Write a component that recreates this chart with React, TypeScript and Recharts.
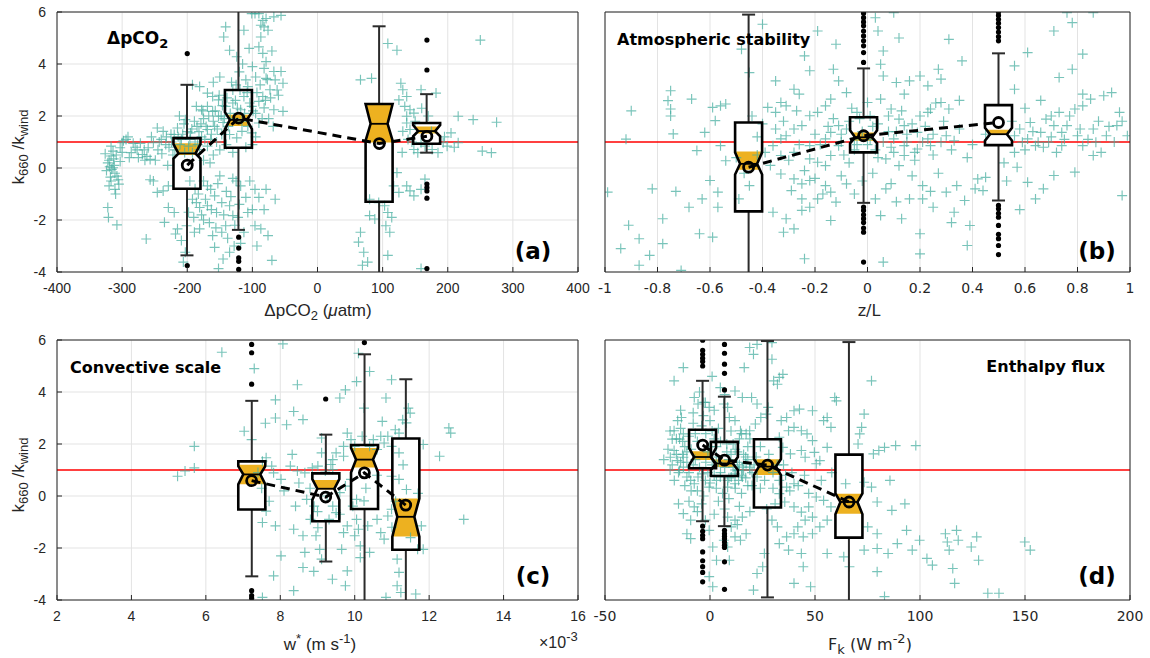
import React from "react";
import {
  Bar,
  CartesianGrid,
  ComposedChart,
  Line,
  ReferenceLine,
  Scatter,
  XAxis,
  YAxis,
} from "recharts";

const INK = "#262626";
const GRID = "#e3e3e3";
const TEAL = "#45ad9f";
const GOLD = "#edb120";
const BOX_W = 27;
const NOTCH = 5;
const CAP = 6.5;
const ARIAL = "Liberation Sans, Arial, sans-serif";
const VERDANA = "DejaVu Sans, Verdana, sans-serif";

const yTicks = [-4, -2, 0, 2, 4, 6];
const aTicks = [-400, -300, -200, -100, 0, 100, 200, 300, 400];
const bTicks = [-1, -0.8, -0.6, -0.4, -0.2, 0, 0.2, 0.4, 0.6, 0.8, 1];
const cTicks = [2, 4, 6, 8, 10, 12, 14, 16]; // w* in units of 1e-3 m/s
const dTicks = [-50, 0, 50, 100, 150, 200];

// box stats: [lower whisker, q1, notch lo, median, notch hi, q3, upper whisker]
// bands: shaded notch part [lo, hi]
const aPositions = [-200, -121, 95, 168];
const aBoxes = [
  [-3.36, -0.8, 0.36, 0.56, 0.92, 1.15, 3.2],
  [-2.38, 0.78, 1.5, 1.85, 2.15, 3.0, 6.5],
  [-4.5, -1.3, 1.05, 1.7, 2.46, 2.46, 5.45],
  [0.59, 0.93, 1.22, 1.42, 1.65, 1.73, 2.84],
];
const aBands = [[0.5, 0.95], [1.62, 2.05], [0.98, 2.46], [1.33, 1.6]];
const aMeans = [0.11, 1.92, 0.94, 1.22];
const aOutliers = [
  [-200, 4.4], [-200, -3.75],
  [-121, -2.66], [-121, -3.08], [-121, -3.46], [-121, -3.59], [-121, -3.9],
  [168, 4.92], [168, 3.77], [168, -0.62], [168, -0.75], [168, -0.88], [168, -1.16], [168, -3.87],
];
const aPoints = [
  [-322, -1.52], [-321, -1.9], [-308, -2.19], [-320, 0.3], [-317, 0.46], [-322, 0.2], [-314, 0.65], [-317, 0.84],
  [-311, -0.2], [-308, -0.31], [-317, -0.5], [-305, -0.62], [-311, -0.82], [-320, -0.69], [-314, 0.01], [-300, 0.97],
  [-294, 1.1], [-303, 0.78], [-291, 1.2], [-286, 0.59], [-269, 0.52], [-257, 0.33], [-260, 0.78], [-252, 0.97],
  [-240, 1.1], [-237, 1.41], [-246, 1.54], [-257, -0.45], [-252, -0.5], [-246, -0.94], [-237, -0.88], [-229, -0.69],
  [-263, -2.73], [-235, -2.09], [-229, -1.52], [-220, -1.71], [-215, -2.34], [-218, -2.54], [-209, -2.79], [-203, -3.24],
  [-206, -3.62], [-326, 0.55], [-312, 0.1], [-318, -0.35], [-300, 0.6], [-280, 0.8], [-275, 0.4], [-265, 0.3],
  [-245, 0.7], [-233, 0.9], [-225, 1.3], [-222, 0.5], [-230, 0.1],
  [-192, 3.2], [-181, 3.13], [-169, 2.88], [-161, 2.75], [-152, 2.62], [-186, 2.37], [-178, 2.24], [-169, 2.37],
  [-161, 2.18], [-152, 1.99], [-203, 1.86], [-215, 1.54], [-220, 1.29], [-209, 1.1], [-198, 0.84], [-192, 0.59],
  [-181, 0.71], [-169, 0.84], [-164, 1.1], [-169, 1.48], [-158, 1.6], [-147, 1.29], [-135, 1.29], [-124, 1.16],
  [-116, 1.41], [-107, 1.6], [-101, 1.35], [-90, 1.73], [-141, 2.37], [-130, 2.5], [-118, 2.24], [-113, 2.75],
  [-101, 2.37], [-175, 1.9], [-185, 1.6], [-195, 1.35], [-205, 1.7], [-212, 2.0], [-160, 0.5], [-150, 0.7],
  [-140, 0.9], [-155, 1.0], [-145, 1.75], [-175, 0.3], [-165, 0.2], [-188, 1.0], [-178, 1.2], [-200, 1.4],
  [-130, 0.6], [-110, 0.8], [-100, 0.9], [-95, 1.2],
  [-228, 0.8], [-224, 1.0], [-219, 0.7], [-214, 1.2], [-211, 0.9], [-207, 1.3], [-204, 0.6], [-196, 1.1],
  [-193, 1.5], [-189, 1.8], [-184, 0.9], [-182, 1.4], [-179, 1.7], [-176, 2.2], [-173, 1.1], [-171, 1.6],
  [-167, 2.0], [-163, 1.3], [-160, 1.8], [-157, 2.2], [-154, 1.5], [-151, 2.8], [-148, 2.0], [-146, 2.4],
  [-143, 1.9], [-139, 2.7], [-137, 1.6], [-134, 2.1], [-132, 3.3], [-128, 1.9], [-126, 2.6], [-123, 2.3],
  [-119, 3.0], [-116, 1.8], [-112, 2.1], [-108, 2.9], [-104, 2.5], [-99, 2.2], [-93, 2.9], [-88, 3.2],
  [-85, 1.9], [-80, 2.6], [-77, 3.4], [-72, 2.7], [-68, 1.6], [-62, 3.0],
  [-324, -0.1], [-319, 0.05], [-316, -0.05], [-313, 0.35], [-309, 0.5], [-306, -0.45], [-303, 0.25], [-310, -1.0],
  [-298, 1.05], [-289, 0.4], [-283, 0.95], [-277, 0.7], [-272, 0.95], [-266, 0.7], [-262, 0.45], [-255, 1.2],
  [-249, 0.3], [-243, 1.0], [-239, 0.55], [-232, 1.2],
  [-141, 5.43], [-144, 5.04], [-135, 4.53], [-124, 4.28], [-113, 5.3], [-110, 3.39], [-107, 3.13], [-101, 5.94],
  [-96, 5.94], [-90, 5.94], [-84, 5.68], [-79, 5.75], [-67, 5.81], [-56, 5.87], [-87, 5.49], [-82, 5.43],
  [-76, 5.3], [-87, 5.04], [-90, 4.66], [-84, 4.41], [-79, 4.09], [-82, 3.83], [-79, 3.45], [-67, 3.71],
  [-65, 3.39], [-56, 3.71], [-53, 3.26], [-73, 3.01], [-84, 2.75], [-90, 2.56], [-82, 2.31], [-67, 2.24],
  [-53, 2.18], [-95, 3.5], [-100, 3.9], [-120, 3.7], [-125, 3.2], [-130, 3.0], [-150, 3.5], [-160, 3.3],
  [-70, 4.5], [-60, 2.8], [-95, 2.1], [-75, 1.9], [-105, 4.6], [-115, 4.0],
  [-169, -0.69], [-164, -0.82], [-158, -1.07], [-169, -1.45], [-155, -1.71], [-147, -1.33], [-135, -1.45], [-130, -1.83],
  [-141, -2.22], [-161, -2.6], [-158, -3.05], [-152, -3.87], [-147, -2.47], [-135, -3.24], [-113, -2.47], [-107, -1.71],
  [-118, -0.69], [-96, -0.82], [-90, -1.13], [-110, -1.13], [-96, -2.22], [-87, -2.34], [-70, -3.55], [-65, -1.2],
  [-79, -0.82], [-192, -1.2], [-186, -1.33], [-198, -1.7], [-181, -1.52], [-190, -1.9], [-201, -2.22], [-189, -2.47],
  [-181, -2.34], [-175, -0.5], [-150, -0.3], [-130, -0.4], [-140, -0.9], [-125, -0.5], [-120, -1.4], [-175, -2.0],
  [-145, -3.5], [-128, -3.0],
  [-196, -0.5], [-188, -0.8], [-183, -1.0], [-178, -1.8], [-172, -1.2], [-166, -2.1], [-163, -1.6], [-156, -2.3],
  [-153, -0.6], [-144, -1.8], [-138, -2.7], [-133, -1.1], [-127, -2.2], [-122, -1.9], [-118, -2.9], [-104, -0.5],
  [-100, -1.6], [-93, -3.0], [-82, -1.6], [-76, -2.6],
  [66, 3.39], [83, 3.45], [66, -2.47], [63, -2.85], [71, -3.24], [77, -3.62], [69, -3.74], [80, -1.2],
  [94, -1.33], [80, -1.83], [103, -1.45], [108, -1.71], [114, -1.9], [105, -2.22], [111, -2.47], [108, -3.36],
  [88, -1.96], [117, -0.69], [125, -0.94], [122, -0.18], [108, 4.79], [122, 4.53], [128, 3.26], [131, 3.01],
  [137, 2.75], [125, 2.62], [134, 2.37], [142, 2.24], [137, 1.99], [148, 2.11], [137, 1.73], [142, 1.48],
  [131, 1.41], [139, 1.1], [148, 0.71], [154, 0.59], [159, 0.97], [165, 0.84], [176, 0.71], [185, 0.59],
  [193, 0.97], [199, 0.84], [205, 1.35], [182, 2.88], [159, 3.01], [137, -0.69], [142, -0.88], [148, -1.07],
  [159, -0.82], [165, -0.43], [159, -3.87], [239, 1.86], [275, 1.76], [250, 4.92], [253, 0.65], [267, 0.59],
  [216, 1.99], [216, 0.97], [150, 1.8], [160, 2.3], [170, 2.0], [145, 1.0], [130, 0.6], [175, 1.4],
  [195, 1.2], [210, 0.8],
];

const bPositions = [-0.453, -0.015, 0.499];
const bBoxes = [
  [-4.5, -1.67, -0.25, 0.16, 0.6, 1.75, 5.9],
  [-1.34, 0.6, 0.95, 1.18, 1.45, 1.95, 3.83],
  [-1.25, 0.88, 1.05, 1.3, 1.55, 2.42, 4.41],
];
const bBands = [[-0.07, 0.63], [1.05, 1.37], [1.28, 1.47]];
const bMeans = [0.03, 1.24, 1.75];
const bOutliers = [
  [-0.015, 5.95], [-0.015, 5.78], [-0.015, 5.62], [-0.015, 5.47], [-0.015, 5.27], [-0.015, 5.08], [-0.015, 4.89],
  [-0.015, 4.7], [-0.015, 4.44], [-0.015, 4.06], [-0.015, -1.5], [-0.015, -1.63], [-0.015, -1.8], [-0.015, -1.95],
  [-0.015, -2.1], [-0.015, -2.31], [-0.015, -2.47], [-0.015, -3.62],
  [0.499, 6.0], [0.499, 5.87], [0.499, 5.72], [0.499, 5.57], [0.499, 5.4], [0.499, 5.23], [0.499, 5.05], [0.499, 4.89],
  [0.499, -1.44], [0.499, -1.57], [0.499, -1.74], [0.499, -1.89], [0.499, -2.21], [0.499, -2.55], [0.499, -2.72],
  [0.499, -2.98], [0.499, -3.33],
];
const bPoints = [
  [-0.99, -0.93], [-0.94, -3.1], [-0.91, -2.2], [-0.87, -2.72], [-0.87, -3.74], [-0.83, -3.36], [-0.82, -0.8], [-0.78, -1.95],
  [-0.78, -2.91], [-0.73, -0.9], [-0.71, -3.94], [-0.92, 1.11], [-0.9, 2.2], [-0.76, 2.59], [-0.75, 2.97], [-0.75, 2.27],
  [-0.74, 1.31], [-0.75, 2.0], [-0.67, 2.65], [-0.65, 0.67], [-0.64, -2.53], [-0.59, -2.66], [-0.62, 1.37], [-0.59, 2.33],
  [-0.58, 1.82], [-0.56, 2.39], [-0.54, 2.46], [-0.63, -1.19], [-0.6, -0.48], [-0.57, -0.93], [-0.57, -1.51], [-0.68, -1.51],
  [-0.56, 0.86], [-0.54, 0.28], [-0.45, 3.67], [-0.48, 4.57],
  [-0.4, 5.53], [-0.35, 3.35], [-0.38, 2.33], [-0.35, 2.14], [-0.33, 2.52], [-0.31, 2.39], [-0.28, 3.03], [-0.26, 2.84],
  [-0.24, 4.31], [-0.22, 3.74], [-0.19, 5.27], [-0.13, 3.8], [-0.12, 4.76], [-0.11, 3.35], [-0.08, 2.9], [-0.04, 2.14],
  [0.03, 5.78], [0.04, 5.27], [0.06, 4.5], [0.05, 3.99], [0.06, 3.54], [0.1, 5.97], [0.12, 5.0], [0.11, 3.29],
  [0.14, 2.84], [0.16, 3.35], [0.2, 3.54], [0.23, 3.16], [0.27, 3.8], [0.28, 3.42], [0.31, 4.95], [0.36, 4.12],
  [0.23, 2.14], [0.24, 2.27], [0.28, 2.52], [0.31, 2.27], [0.35, 1.5], [0.3, 1.24], [0.23, 1.12], [0.19, 1.37],
  [0.14, 1.63], [0.12, 1.88], [0.09, 2.27], [0.05, 2.65], [0.0, 2.52], [-0.14, 2.65], [-0.16, 2.39], [-0.19, 2.14],
  [-0.22, 2.01], [-0.25, 1.63], [-0.28, 1.5], [-0.31, 1.24], [-0.33, 1.12], [-0.36, 0.86], [-0.39, 0.6], [-0.33, 0.48],
  [-0.28, 0.6], [-0.22, 0.86], [-0.16, 1.12], [-0.14, 1.37], [-0.11, 1.63], [-0.08, 1.5], [-0.05, 1.12], [-0.11, 0.86],
  [-0.14, 0.48], [-0.19, 0.22], [-0.22, 0.35], [-0.16, 0.09], [0.1, 1.12], [0.14, 0.86], [0.19, 0.73], [0.24, 0.86],
  [0.28, 0.99], [0.33, 1.05], [0.14, 0.48], [0.1, 0.6], [0.07, 0.35], [0.12, 0.09],
  [-0.33, -0.23], [-0.28, -0.42], [-0.25, -0.61], [-0.22, -0.48], [-0.29, -0.87], [-0.25, -1.19], [-0.22, -1.51], [-0.19, -1.19],
  [-0.14, -0.93], [-0.12, -1.31], [-0.08, -0.61], [-0.05, -1.0], [-0.16, -0.68], [-0.36, -1.7], [-0.31, -1.95], [-0.28, -2.34],
  [-0.32, -2.47], [-0.25, -1.63], [-0.14, -2.02], [-0.24, -3.49], [0.06, -3.62], [0.05, -1.83], [0.07, -0.8], [0.03, -1.19],
  [0.13, -1.95], [0.16, -1.19], [0.21, -0.68], [0.21, -1.19], [0.2, -2.53], [0.2, -3.3], [0.25, -1.51], [0.3, -0.93],
  [0.33, -1.7], [0.34, -0.68], [0.37, -1.25], [0.39, -2.21], [0.38, -2.98], [0.41, -0.8], [0.42, -0.42], [0.44, -0.87],
  [0.45, -0.36],
  [0.56, 0.6], [0.61, 1.12], [0.64, 0.86], [0.66, 1.37], [0.71, 1.63], [0.73, 2.14], [0.76, 1.63], [0.79, 2.27],
  [0.82, 2.39], [0.85, 2.65], [0.9, 2.78], [0.93, 2.9], [0.96, 2.14], [0.95, 1.63], [0.99, 1.24], [0.97, -1.06],
  [0.56, 1.24], [0.59, 0.99], [0.65, 0.99], [0.69, 0.99], [0.74, 0.86], [0.82, 0.86], [0.87, 0.99], [0.74, 1.37],
  [0.8, 1.24], [0.86, 1.5], [0.91, 1.24], [0.62, 1.75], [0.68, 1.88], [0.56, 3.03], [0.61, 4.44], [0.71, 5.27],
  [0.76, 5.97], [0.78, 5.59], [0.86, 5.97], [0.82, 4.38], [0.78, 3.8], [0.73, 3.48], [0.82, 2.84], [0.57, 0.03],
  [0.61, -0.55], [0.64, -1.19], [0.71, -0.29], [0.79, -0.16], [0.86, 0.48], [0.56, 3.93],
  [-0.49, -1.19], [-0.45, -0.68], [-0.05, 0.7], [0.0, 0.9], [0.02, 1.6], [-0.03, 1.9], [0.04, 0.4], [-0.07, 0.2],
  [0.08, 1.4], [-0.1, 1.0], [0.15, 1.0], [0.18, 0.3], [0.25, 0.5], [0.4, 0.9], [0.45, 1.3], [0.38, 0.4],
  [-0.42, 1.2], [-0.5, 0.4], [-0.47, -0.2], [-0.44, 2.0],
  [-0.2, 1.3], [-0.18, 0.9], [-0.15, 1.6], [-0.13, 1.9], [-0.1, 1.3], [-0.09, 0.5], [-0.07, 1.8], [-0.06, 2.3],
  [-0.04, 0.9], [-0.02, 1.4], [0.01, 1.1], [0.01, 2.0], [0.03, 0.7], [0.04, 1.7], [0.06, 1.0], [0.08, 2.0],
  [0.09, 0.8], [0.11, 1.4], [0.13, 2.2], [0.15, 1.3], [0.17, 1.7], [0.18, 0.6], [0.2, 2.0], [0.21, 1.0],
  [0.22, 1.6], [0.25, 1.3], [0.26, 2.5], [0.29, 1.8], [0.32, 0.7], [0.35, 2.6], [-0.26, 0.9], [-0.27, 2.2],
  [-0.3, 0.3], [-0.32, 1.8], [-0.35, 1.5], [-0.37, 0.1], [-0.4, 1.7], [-0.42, 0.5], [-0.24, -0.1], [-0.2, -0.4],
  [-0.17, -1.0], [-0.1, -0.3], [-0.02, -0.5], [0.02, -0.2], [0.09, -0.6], [0.11, -1.3], [0.17, -0.3], [0.24, -0.9],
  [0.27, -0.2], [0.32, -2.1],
  [0.58, 1.5], [0.6, 0.7], [0.63, 1.4], [0.67, 0.8], [0.7, 1.2], [0.72, 0.6], [0.75, 1.1], [0.77, 2.0],
  [0.81, 1.5], [0.84, 1.1], [0.88, 1.8], [0.89, 0.6], [0.92, 1.6], [0.94, 1.0], [0.97, 1.8], [0.6, 2.3],
  [0.66, 2.6], [0.7, 2.0], [0.52, 0.2], [0.53, -0.5], [0.55, 1.8], [0.58, -1.6], [0.67, -0.8],
];

const cPositions = [7.23, 9.22, 10.26, 11.37];
const cBoxes = [
  [-3.09, -0.52, 0.45, 0.83, 1.15, 1.33, 3.66],
  [-2.52, -0.97, -0.15, 0.28, 0.65, 0.87, 2.36],
  [-4.5, -0.5, 0.9, 1.4, 1.85, 1.96, 5.45],
  [-4.5, -2.07, -1.56, -0.8, -0.1, 2.21, 4.49],
];
const cBands = [[0.45, 1.2], [0.25, 0.62], [1.1, 1.85], [-1.56, -0.1]];
const cMeans = [0.59, -0.04, 0.89, -0.35];
const cOutliers = [
  [7.23, 5.83], [7.23, 5.51], [7.23, 4.3], [7.23, -3.64], [7.23, -3.83], [7.23, -3.93],
  [9.22, 3.73], [10.26, 5.9],
];
const cPoints = [
  [5.24, 0.76], [5.44, 0.96], [5.69, 1.08], [5.69, 1.91], [6.43, 5.53], [7.03, 2.49], [7.23, 2.17], [7.52, -1.02],
  [7.62, -0.58], [7.52, 1.34], [7.62, 1.47], [7.77, 1.15], [7.82, 0.89], [7.87, 3.7], [7.87, 3.0], [8.07, 5.85],
  [7.87, -1.15], [8.02, 0.64], [8.17, 2.74], [8.32, 1.6], [8.36, 3.25], [8.46, 4.28], [8.61, 2.94], [8.46, 0.96],
  [8.27, 1.15], [8.41, -0.39], [8.36, -1.28], [8.61, -1.53], [8.66, -2.17], [8.61, -2.75], [8.02, -2.3], [7.82, -3.07],
  [8.36, -3.64], [7.52, -3.9], [8.71, -0.13], [8.91, -0.39], [8.81, -0.9], [9.01, -1.22], [8.96, -1.53], [9.06, -2.05],
  [9.11, -2.43], [9.75, -3.45], [9.8, -2.88], [9.65, -2.05], [9.7, -1.41], [9.8, -1.15], [10.0, -1.53], [10.1, -1.28],
  [10.05, -0.9], [9.95, -0.39], [10.25, -0.19], [10.05, -0.13], [10.15, -1.92], [10.4, -2.17], [10.15, -2.37], [10.35, -1.15],
  [10.6, -0.9], [10.7, -1.41], [10.79, -1.66], [10.89, -0.77], [10.99, -0.51], [11.14, -2.43], [11.19, -2.94], [11.14, -3.45],
  [11.24, -3.71], [10.84, -3.9], [11.64, -3.77], [11.69, -2.05], [11.79, -1.15], [11.84, -2.05], [10.99, 0.76], [11.19, 0.64],
  [11.39, 0.25], [11.19, 1.66], [10.99, 1.91], [10.89, 2.3], [11.09, 2.55], [11.19, 2.42], [11.39, 2.81], [11.49, 3.19],
  [11.44, 3.38], [11.29, 2.93], [10.99, 4.47], [10.84, 3.77], [10.74, 2.87], [10.7, 2.3], [10.5, 2.17], [10.4, 1.91],
  [10.79, 2.04], [10.6, 1.79], [10.05, 4.4], [10.4, 4.79], [10.1, 5.49], [10.25, 3.38], [9.75, 4.08], [9.6, 3.77],
  [9.8, 2.42], [9.9, 2.17], [10.0, 1.91], [9.7, 1.91], [9.5, 1.66], [9.41, 1.4], [9.36, 1.21], [9.41, 1.02],
  [9.7, 1.53], [9.21, 0.96], [9.01, 1.15], [8.86, 1.08], [8.66, 0.89], [9.11, 1.66], [9.11, 2.23], [12.28, 1.53],
  [12.53, 2.62], [12.58, 2.42], [12.93, -0.9], [11.84, 1.98], [9.5, -0.64], [9.31, -0.9], [9.41, -0.39], [9.26, 0.0],
  [9.6, 0.13], [9.75, 0.38], [9.9, 0.64], [7.4, 0.9], [7.5, 0.3], [7.7, -0.2], [8.1, 0.2], [8.5, 0.5],
  [8.8, 0.3], [9.0, -0.6], [9.6, -0.7], [10.3, 0.3], [10.6, 0.8], [11.0, -1.2], [11.5, -1.6], [11.7, 0.1],
  [11.1, -0.2], [10.2, 2.3], [11.3, 1.2], [7.3, 4.9], [7.6, 2.8], [8.9, -2.9], [9.4, -3.2],
];

const dPositions = [-3.5, 6.9, 27.4, 66.2];
const dBoxes = [
  [-0.97, 1.07, 1.18, 1.5, 1.85, 2.55, 4.43],
  [-1.16, 0.77, 1.0, 1.25, 1.5, 2.08, 3.82],
  [-3.9, -0.44, 0.8, 1.13, 1.42, 2.18, 5.96],
  [-4.5, -1.6, -0.7, -0.23, 0.1, 1.59, 5.92],
];
const dBands = [[1.38, 1.72], [1.12, 1.4], [0.81, 1.41], [-0.68, 0.09]];
const dMeans = [1.96, 1.38, 1.19, -0.23];
const dOutliers = [
  [-3.5, 5.99], [-3.5, 5.6], [-3.5, 5.45], [-3.5, 5.3], [-3.5, 5.17], [-3.5, 5.0],
  [-3.5, -1.16], [-3.5, -1.36], [-3.5, -1.51], [-3.5, -1.64], [-3.5, -2.15], [-3.5, -2.49], [-3.5, -2.72], [-3.5, -2.94], [-3.5, -3.3],
  [6.9, 5.83], [6.9, 5.49], [6.9, 5.07], [6.9, 4.72], [6.9, 4.08],
  [6.9, -1.32], [6.9, -1.45], [6.9, -1.55], [6.9, -1.64], [6.9, -1.77], [6.9, -1.89], [6.9, -1.98], [6.9, -2.53], [6.9, -3.59],
];
const dPoints = [
  [-17.1, 4.43], [-12.7, 4.94], [-7.5, 3.79], [-5.7, 3.54], [-2.2, 3.6], [-0.4, 3.41], [-3.1, 3.09], [-15.4, 2.9],
  [-13.6, 3.02], [-17.1, 2.51], [-18.0, 2.19], [-14.5, 2.19], [-12.7, 2.39], [-18.9, 1.49], [-17.1, 1.75], [-15.4, 1.36],
  [-12.7, 1.49], [-12.7, 1.11], [-14.5, 0.98], [-11.0, 0.73], [-9.2, 0.6], [-7.5, 0.47], [-5.7, 0.73], [-3.9, 0.85],
  [-2.2, 0.6], [-0.4, 0.34], [3.1, 0.6], [4.9, 0.73], [8.4, 0.6], [10.1, 0.73], [11.9, 0.85], [13.6, 0.98],
  [15.4, 1.11], [17.2, 1.24], [18.9, 1.11], [13.6, 0.6], [15.4, 0.73], [11.9, 0.47], [8.4, 0.34], [4.9, 4.17],
  [6.6, 3.54], [8.4, 3.41], [9.2, 3.02], [11.9, 2.9], [14.5, 2.51], [11.9, 4.04], [15.4, 3.79], [16.3, 4.94],
  [18.9, 5.71], [20.7, 5.45], [22.4, 5.83], [29.5, 5.9], [29.5, 5.26], [32.1, 4.3], [34.7, 4.68], [33.0, 4.56],
  [30.3, 4.43], [19.8, 3.79], [22.4, 3.54], [24.2, 3.02], [27.7, 3.41], [26.8, 3.15], [21.6, 2.77], [18.9, 2.51],
  [17.2, 2.39], [33.9, 2.9], [36.5, 3.02], [40.0, 3.28], [42.6, 3.34], [48.8, 3.28], [46.2, 2.39], [43.5, 2.51],
  [40.0, 2.64], [37.4, 2.51], [33.0, 2.26], [34.7, 1.87], [38.3, 1.62], [43.5, 1.75], [45.3, 1.49], [48.8, 2.13],
  [49.7, 1.68], [50.6, 1.24], [52.3, 1.36], [55.8, 1.87], [54.1, 2.9], [55.8, 3.02], [57.6, 2.64], [59.4, 3.79],
  [60.2, 3.66], [72.2, 2.64], [71.3, 2.39], [70.5, 2.0], [73.4, 3.15], [76.9, 4.43], [77.8, 1.62], [80.4, 1.75],
  [83.1, 1.87], [88.4, 1.94], [98.0, 1.94], [64.6, 0.47], [73.4, 0.53], [76.9, 0.34], [79.6, -0.23], [86.6, -0.55],
  [92.8, -0.3], [85.7, 0.6],
  [22.4, 0.73], [33.0, 0.6], [36.5, 0.34], [40.0, 0.47], [33.0, 0.09], [35.6, -0.23], [40.0, -0.42], [43.5, -0.62],
  [47.0, -0.42], [48.8, -0.81], [45.3, -0.93], [41.8, -1.19], [40.0, -1.45], [44.4, -1.57], [48.8, -1.45], [52.3, -1.19],
  [55.8, -0.93], [57.6, -0.42], [54.1, -0.17], [50.6, -0.04], [29.5, -0.93], [32.1, -1.19], [36.5, -1.57], [33.0, -1.83],
  [37.4, -2.08], [43.5, -2.21], [44.4, -2.72], [40.0, -3.36], [47.9, -3.49], [55.8, -2.21], [63.7, -2.34], [66.4, -2.72],
  [75.1, -1.19], [79.6, -1.45], [73.4, -2.08], [79.6, -2.02], [79.6, -2.91], [83.1, -3.87], [89.2, -1.83], [93.6, -1.32],
  [96.3, -2.08], [99.8, -1.7], [103.3, -2.4], [105.9, -2.66], [112.1, -1.45], [113.0, -1.77], [113.9, -2.08], [115.6, -2.79],
  [117.4, -1.32], [118.2, -1.7], [124.4, -1.96], [127.0, -1.57], [127.9, -2.47], [132.3, -3.74], [137.6, -3.74], [149.9, -1.77],
  [152.5, -2.08], [116.5, -3.36], [84.8, -2.21], [25.9, -2.21], [22.4, -2.98], [20.7, -3.62], [25.1, -2.72],
  [-12.7, -0.68], [-9.2, -0.93], [-11.0, -1.45], [-9.2, -1.64], [-7.5, -0.42], [-2.2, -0.93], [-0.4, -1.32], [1.3, -1.96],
  [3.1, -2.47], [1.3, -3.49], [-0.4, -3.1], [8.4, -0.81], [10.1, -1.19], [11.9, -0.93], [9.2, -2.47], [11.9, -1.57],
  [14.5, -1.7], [17.2, -1.45], [15.4, -0.81], [6.6, -1.7], [8.4, -1.96],
  [-16, 2.2], [-14, 2.6], [-12, 1.9], [-10, 2.3], [-8, 2.8], [-6, 2.1], [-2, 2.4], [0, 2.9],
  [2, 2.2], [4, 2.6], [8, 2.0], [10, 2.5], [12, 1.8], [14, 2.2], [16, 1.6], [18, 1.9],
  [-18, 1.2], [-15, 0.9], [-13, 1.6], [-11, 1.3], [-9, 1.8], [-7, 1.4], [-1, 1.7], [1, 1.2],
  [3, 1.5], [5, 0.9], [9, 1.4], [11, 1.1], [13, 1.3], [15, 0.8], [17, 1.5], [19, 1.0],
  [-12, 0.4], [-6, 0.2], [0, 0.5], [6, 0.1], [12, 0.3], [18, 0.4], [-10, -0.2], [-4, -0.3],
  [4, -0.2], [14, -0.4], [-8, 3.2], [-3, 3.6], [2, 3.3], [7, 3.9], [-5, 4.0], [1, 4.6],
  [-14, 3.3], [-20, 1.8], [-22, 1.4], [-19, 2.5], [22, 1.5], [24, 1.9], [26, 0.6], [28, 1.6],
  [30, 0.9], [32, 1.2], [36, 0.8], [38, 0.2],
  [-19, 1.0], [-17, 0.6], [-16, 1.6], [-14, 1.3], [-13, 2.1], [-11, 1.7], [-10, 0.9], [-8, 1.2],
  [-7, 2.4], [-5, 1.1], [-4, 2.7], [-2, 1.3], [-1, 0.9], [0, 1.9], [1, 2.5], [2, 0.8],
  [3, 1.9], [4, 1.3], [5, 2.1], [7, 1.1], [8, 1.7], [9, 0.7], [10, 1.6], [11, 2.0],
  [12, 1.0], [13, 1.7], [14, 1.2], [15, 2.4], [16, 1.0], [17, 0.7], [18, 1.4], [19, 2.2],
  [20, 0.9], [21, 1.2], [-9, 0.2], [-3, 0.0], [3, 0.3], [9, -0.1], [15, 0.1], [20, 0.4],
  [-15, -0.3], [-6, -0.6], [2, -0.7], [7, -0.5], [13, -1.1], [19, -0.6], [24, 0.3], [27, -0.5],
  [30, 0.3], [31, -0.3], [35, 1.2], [39, 0.9], [42, 0.4], [45, 0.8], [47, 0.1], [53, 0.6], [58, 0.9],
];

type BoxRow = {
  x: number;
  wLo: number;
  q1: number;
  nLo: number;
  med: number;
  nHi: number;
  q3: number;
  wHi: number;
  oLo: number;
  oHi: number;
  mean: number;
  iqr: [number, number];
};

function toRows(pos: number[], boxes: number[][], bands: number[][], means: number[]): BoxRow[] {
  return pos.map((x, i) => {
    const [wLo, q1, nLo, med, nHi, q3, wHi] = boxes[i];
    return { x, wLo, q1, nLo, med, nHi, q3, wHi, oLo: bands[i][0], oHi: bands[i][1], mean: means[i], iqr: [q1, q3] };
  });
}

const toXY = (list: number[][]) => list.map(([x, y]) => ({ x, y }));

function halfW(b: BoxRow, v: number) {
  const h = BOX_W / 2;
  if (v >= b.nHi || v <= b.nLo) return h;
  const t = v >= b.med ? (b.nHi - v) / (b.nHi - b.med) : (v - b.nLo) / (b.med - b.nLo);
  return h - NOTCH * t;
}

// pixel helpers derived from the bar the library placed for [q1, q3]
function geom(props: any) {
  const { x, y, width, height, payload } = props;
  const b = payload as BoxRow;
  const k = height / (b.q3 - b.q1);
  return { b, cx: x + width / 2, py: (v: number) => y + (b.q3 - v) * k };
}

function outline(b: BoxRow, levels: number[], cx: number, py: (v: number) => number) {
  const right = levels.map((v) => `${cx + halfW(b, v)},${py(v)}`);
  const left = [...levels].reverse().map((v) => `${cx - halfW(b, v)},${py(v)}`);
  return [...right, ...left].join(" ");
}

function boxLevels(b: BoxRow) {
  return [b.q3, b.nHi, b.med, b.nLo, b.q1].filter((v) => v <= b.q3 && v >= b.q1);
}

function BoxFill(props: any) {
  const { b, cx, py } = geom(props);
  const hi = Math.min(b.oHi, b.q3);
  const lo = Math.max(b.oLo, b.q1);
  const band = [hi, ...[b.nHi, b.med, b.nLo].filter((v) => v < hi && v > lo), lo];
  return (
    <g>
      <polygon points={outline(b, boxLevels(b), cx, py)} fill="#ffffff" />
      <polygon points={outline(b, band, cx, py)} fill={GOLD} />
    </g>
  );
}

function BoxOutline(props: any) {
  const { b, cx, py } = geom(props);
  const m = halfW(b, b.med);
  return (
    <g>
      <line x1={cx} x2={cx} y1={py(b.q3)} y2={py(b.wHi)} stroke="#2b2b2b" strokeWidth={2} />
      <line x1={cx} x2={cx} y1={py(b.q1)} y2={py(b.wLo)} stroke="#2b2b2b" strokeWidth={2} />
      <line x1={cx - CAP} x2={cx + CAP} y1={py(b.wHi)} y2={py(b.wHi)} stroke="#2b2b2b" strokeWidth={2} />
      <line x1={cx - CAP} x2={cx + CAP} y1={py(b.wLo)} y2={py(b.wLo)} stroke="#2b2b2b" strokeWidth={2} />
      <polygon points={outline(b, boxLevels(b), cx, py)} fill="none" stroke="#000" strokeWidth={2.6} strokeLinejoin="miter" />
      <line x1={cx - m} x2={cx + m} y1={py(b.med)} y2={py(b.med)} stroke="#000" strokeWidth={1.8} />
    </g>
  );
}

function Cross(props: any) {
  const { cx, cy } = props;
  if (cx == null || cy == null) return <g />;
  return (
    <path
      d={`M${cx - 5},${cy}H${cx + 5}M${cx},${cy - 5}V${cy + 5}`}
      stroke={TEAL}
      strokeOpacity={0.72}
      strokeWidth={1.15}
    />
  );
}

function Dot(props: any) {
  const { cx, cy } = props;
  if (cx == null || cy == null) return <g />;
  return <circle cx={cx} cy={cy} r={2.6} fill="#000" />;
}

function MeanDot(props: any) {
  const { cx, cy, index } = props;
  return <circle key={`m${index}`} cx={cx} cy={cy} r={5} fill="none" stroke="#000" strokeWidth={2.8} />;
}

type PanelProps = {
  left: number;
  top: number;
  width: number;
  height: number;
  margin: { top: number; right: number; bottom: number; left: number };
  xDomain: [number, number];
  xTicks: number[];
  yLabels: boolean;
  font: string;
  rows: BoxRow[];
  points: number[][];
  outliers: number[][];
};

function Panel(p: PanelProps) {
  const tick = { fill: INK, fontSize: 14, fontFamily: p.font };
  const line = { stroke: INK, strokeWidth: 1 };
  return (
    <div style={{ position: "absolute", left: p.left, top: p.top }}>
      <ComposedChart width={p.width} height={p.height} data={p.rows} margin={p.margin}>
        <CartesianGrid stroke={GRID} strokeWidth={1} />
        <XAxis
          dataKey="x"
          type="number"
          domain={p.xDomain}
          ticks={p.xTicks}
          allowDataOverflow
          interval={0}
          height={30}
          tickSize={-5}
          tickMargin={16}
          tick={tick}
          axisLine={line}
          tickLine={line}
        />
        <XAxis
          xAxisId="top"
          orientation="top"
          dataKey="x"
          type="number"
          domain={p.xDomain}
          ticks={p.xTicks}
          allowDataOverflow
          interval={0}
          height={1}
          tickSize={-5}
          tick={false}
          axisLine={line}
          tickLine={line}
        />
        <YAxis
          type="number"
          domain={[-4, 6]}
          ticks={yTicks}
          allowDataOverflow
          interval={0}
          width={p.yLabels ? 50 : 1}
          tickSize={-5}
          tickMargin={16}
          tick={p.yLabels ? tick : false}
          axisLine={line}
          tickLine={line}
        />
        <YAxis
          yAxisId="right"
          orientation="right"
          type="number"
          domain={[-4, 6]}
          ticks={yTicks}
          allowDataOverflow
          interval={0}
          width={1}
          tickSize={-5}
          tick={false}
          axisLine={line}
          tickLine={line}
        />
        <ReferenceLine y={1} stroke="#ff0000" strokeWidth={1.6} zIndex={100} />
        <Bar dataKey="iqr" barSize={BOX_W} shape={BoxFill} isAnimationActive={false} zIndex={200} />
        <Scatter data={toXY(p.points)} dataKey="y" shape={Cross} isAnimationActive={false} zIndex={300} />
        <Bar xAxisId="top" dataKey="iqr" barSize={BOX_W} shape={BoxOutline} isAnimationActive={false} zIndex={400} />
        <Scatter data={toXY(p.outliers)} dataKey="y" shape={Dot} isAnimationActive={false} zIndex={450} />
        <Line
          dataKey="mean"
          type="linear"
          stroke="#000"
          strokeWidth={3}
          strokeDasharray="9 6"
          dot={MeanDot}
          activeDot={false}
          isAnimationActive={false}
          zIndex={500}
        />
      </ComposedChart>
    </div>
  );
}

function Labels() {
  const sub = { fontSize: 13 };
  const bold = { fontFamily: VERDANA, fontWeight: 700, fill: "#000" };
  return (
    <svg
      width={1150}
      height={658}
      style={{ position: "absolute", left: 0, top: 0, pointerEvents: "none", whiteSpace: "pre" }}
    >
      <g fontFamily={ARIAL} fill={INK} fontSize={17}>
        {[147, 475].map((cy) => (
          <text key={cy} transform={`translate(24,${cy}) rotate(-90)`} textAnchor="middle">
            k<tspan dy={4} {...sub}>660</tspan>
            <tspan dy={-4}>{"  /k"}</tspan>
            <tspan dy={4} {...sub}>wind</tspan>
          </text>
        ))}
        <text x={318} y={316} textAnchor="middle">
          ΔpCO<tspan dy={4} {...sub}>2</tspan>
          <tspan dy={-4}>{" ("}</tspan>
          <tspan fontStyle="italic">μ</tspan>atm)
        </text>
        <text x={320} y={650} textAnchor="middle">
          w<tspan dy={-7} {...sub}>*</tspan>
          <tspan dy={7}>{"  (m s"}</tspan>
          <tspan dy={-7} {...sub}>-1</tspan>
          <tspan dy={7}>)</tspan>
        </text>
        <text x={539} y={648} fontSize={16}>
          ×10<tspan dy={-7} {...sub}>-3</tspan>
        </text>
      </g>
      <g fontFamily={VERDANA} fill={INK} fontSize={16}>
        <text x={869} y={316} textAnchor="middle">z/L</text>
        <text x={870} y={650} textAnchor="middle">
          F<tspan dy={4} {...sub}>k</tspan>
          <tspan dy={-4}>{" (W m"}</tspan>
          <tspan dy={-7} {...sub}>-2</tspan>
          <tspan dy={7}>)</tspan>
        </text>
      </g>
      <g {...bold} fontSize={16}>
        <text x={107} y={44} fontSize={17}>
          ΔpCO<tspan dy={4} fontSize={13}>2</tspan>
        </text>
        <text x={617} y={45}>Atmospheric stability</text>
        <text x={70} y={373}>Convective scale</text>
        <text x={1105} y={372} textAnchor="end">Enthalpy flux</text>
      </g>
      <g {...bold} fontSize={23} textAnchor="middle">
        <text x={533} y={259}>(a)</text>
        <text x={1097} y={259}>(b)</text>
        <text x={533} y={584}>(c)</text>
        <text x={1097} y={584}>(d)</text>
      </g>
    </svg>
  );
}

export default function App() {
  return (
    <div style={{ position: "absolute", left: 0, top: 0, width: 1150, height: 658, background: "#fff" }}>
      <Panel
        left={0}
        top={0}
        width={590}
        height={335}
        margin={{ top: 11, right: 11, bottom: 33, left: 7 }}
        xDomain={[-400, 400]}
        xTicks={aTicks}
        yLabels
        font={ARIAL}
        rows={toRows(aPositions, aBoxes, aBands, aMeans)}
        points={aPoints}
        outliers={aOutliers}
      />
      <Panel
        left={590}
        top={0}
        width={560}
        height={335}
        margin={{ top: 11, right: 19, bottom: 33, left: 14 }}
        xDomain={[-1, 1]}
        xTicks={bTicks}
        yLabels={false}
        font={VERDANA}
        rows={toRows(bPositions, bBoxes, bBands, bMeans)}
        points={bPoints}
        outliers={bOutliers}
      />
      <Panel
        left={0}
        top={320}
        width={590}
        height={338}
        margin={{ top: 19, right: 11, bottom: 28, left: 7 }}
        xDomain={[2, 16]}
        xTicks={cTicks}
        yLabels
        font={ARIAL}
        rows={toRows(cPositions, cBoxes, cBands, cMeans)}
        points={cPoints}
        outliers={cOutliers}
      />
      <Panel
        left={590}
        top={320}
        width={560}
        height={338}
        margin={{ top: 19, right: 19, bottom: 28, left: 14 }}
        xDomain={[-50, 200]}
        xTicks={dTicks}
        yLabels={false}
        font={VERDANA}
        rows={toRows(dPositions, dBoxes, dBands, dMeans)}
        points={dPoints}
        outliers={dOutliers}
      />
      <Labels />
    </div>
  );
}
